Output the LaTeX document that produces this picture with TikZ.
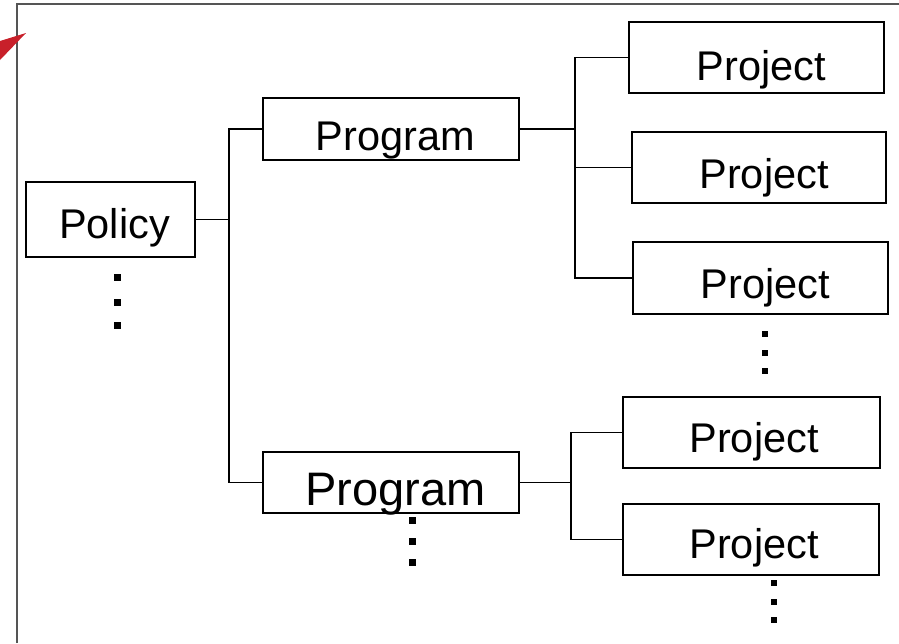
\documentclass[tikz,border=0pt]{standalone}
\usepackage{fontspec}
\setmainfont{Liberation Sans}
\definecolor{framegray}{HTML}{555555}
\definecolor{pointerred}{HTML}{C8202A}
\begin{document}
\begin{tikzpicture}[x=1pt,y=-1pt,
  box/.style={draw=black, line width=1.2pt, rectangle, inner sep=0pt, fill=white},
  lbl/.style={anchor=base, inner sep=0pt, font=\fontsize{41.5}{48}\selectfont},
  wire/.style={draw=black, line width=1.4pt},
  dot/.style={fill=black, draw=none, minimum size=7pt, inner sep=0pt, rectangle}]
\useasboundingbox (0,0) rectangle (899,643);

% outer frame and red pointer
\draw[framegray, line width=2pt] (17,643) -- (17,4) -- (899,4);
\fill[pointerred] (0,41) -- (26,33) -- (0,60) -- cycle;

% boxes
\node[box, minimum width=169pt, minimum height=75pt] (pol)   at (110.5,219.5) {};
\node[box, minimum width=256pt, minimum height=62pt] (prog1) at (391,129) {};
\node[box, minimum width=256pt, minimum height=61pt] (prog2) at (391,482.5) {};
\node[box, minimum width=255pt, minimum height=71pt] (proj1) at (756.5,57.5) {};
\node[box, minimum width=254pt, minimum height=71pt] (proj2) at (759,167.5) {};
\node[box, minimum width=255pt, minimum height=72pt] (proj3) at (760.5,278) {};
\node[box, minimum width=257pt, minimum height=71pt] (proj4) at (751.5,432.5) {};
\node[box, minimum width=256pt, minimum height=71pt] (proj5) at (751,539.5) {};

% labels
\node[lbl] (tpol)   at (114.5,238) {Policy};
\node[lbl] (tprog1) at (395.5,150) {Program};
\node[lbl, font=\fontsize{47}{54}\selectfont] (tprog2) at (395.5,505) {Program};
\node[lbl] (tproj1) at (761.5,80)  {Project};
\node[lbl] (tproj2) at (764,188)   {Project};
\node[lbl] (tproj3) at (765.5,298) {Project};
\node[lbl] (tproj4) at (754,452)   {Project};
\node[lbl] (tproj5) at (754,558)   {Project};

% spines of the tree
\coordinate (s0) at (229,0);
\coordinate (s1) at (575,0);
\coordinate (s2) at (571,0);

\draw[wire] (pol.east) -- (pol.east -| s0);
\draw[wire] (prog1.west) -| (s0 |- prog2.west) -- (prog2.west);

\draw[wire] (prog1.east) -- (prog1.east -| s1);
\draw[wire] (proj1.west) -| (s1 |- proj3.west) -- (proj3.west);
\draw[wire] (proj2.west) -- (proj2.west -| s1);

\draw[wire] (prog2.east) -- (prog2.east -| s2);
\draw[wire] (proj4.west) -| (s2 |- proj5.west) -- (proj5.west);

% continuation dots
\foreach \y [count=\i] in {277,302,325} \node[dot] (dpol\i) at (117,\y) {};
\foreach \y [count=\i] in {520,541,562} \node[dot] (dprog\i) at (412,\y) {};
\foreach \y [count=\i] in {334,353,371} \node[dot, minimum size=6pt] (dproja\i) at (765,\y) {};
\foreach \y [count=\i] in {583,602,620} \node[dot, minimum size=6pt] (dprojb\i) at (774,\y) {};
\end{tikzpicture}
\end{document}
